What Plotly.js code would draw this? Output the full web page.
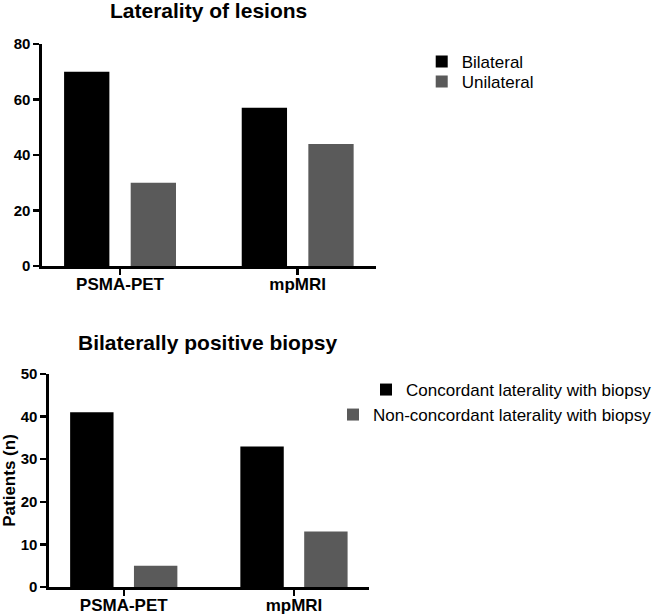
<!DOCTYPE html>
<html>
<head>
<meta charset="utf-8">
<script src="https://cdn.plot.ly/plotly-3.0.1.min.js"></script>
<style>html,body{margin:0;padding:0;background:#fff;}#chart{width:657px;height:614px;}</style>
</head>
<body>
<div id="chart"></div>
<script>
// ---- data ----
const categories = ['PSMA-PET', 'mpMRI'];
const lesionsBilateral = [70, 57];
const lesionsUnilateral = [30, 44];
const biopsyConcordant = [41, 33];
const biopsyNonConcordant = [5, 13];
const topTitle = 'Laterality of lesions';
const bottomTitle = 'Bilaterally positive biopsy';
const yTitleBottom = 'Patients (n)';
const topTicks = [0, 20, 40, 60, 80];
const bottomTicks = [0, 10, 20, 30, 40, 50];

const W = 657, H = 614;
const px = v => v / W;
const py = v => 1 - v / H;

const BLACK = '#000000';
const GRAY = '#5a5a5a';
const FONT = 'Liberation Sans, Arial, Helvetica, sans-serif';

const traces = [
  {type: 'bar', x: categories, y: lesionsBilateral, name: 'Bilateral', xaxis: 'x', yaxis: 'y',
   marker: {color: BLACK}, legend: 'legend'},
  {type: 'bar', x: categories, y: lesionsUnilateral, name: 'Unilateral', xaxis: 'x', yaxis: 'y',
   marker: {color: GRAY}, legend: 'legend2'},
  {type: 'bar', x: categories, y: biopsyConcordant, name: 'Concordant laterality with biopsy', xaxis: 'x2', yaxis: 'y2',
   marker: {color: BLACK}, legend: 'legend3'},
  {type: 'bar', x: categories, y: biopsyNonConcordant, name: 'Non-concordant laterality with biopsy', xaxis: 'x2', yaxis: 'y2',
   marker: {color: GRAY}, legend: 'legend4'}
];

const xCommon = {
  type: 'category', range: [-0.44, 1.44], showline: true, linecolor: '#000', linewidth: 2.5,
  ticks: 'outside', ticklen: 6, tickwidth: 2.5, tickcolor: '#000', showgrid: false, zeroline: false,
  ticklabelstandoff: -5,
  tickfont: {family: FONT, size: 17, color: '#000', weight: 'bold'}, fixedrange: true
};
const yCommon = {
  showline: true, linecolor: '#000', linewidth: 2.5, ticks: 'outside', ticklen: 6, tickwidth: 2.5,
  tickcolor: '#000', showgrid: false, zeroline: false, fixedrange: true,
  tickfont: {family: FONT, size: 15, color: '#000', weight: 'bold'}
};

const legendCommon = {
  bgcolor: 'rgba(0,0,0,0)', borderwidth: 0,
  font: {family: FONT, size: 17, color: '#000'}, yanchor: 'middle'
};

const layout = {
  width: W, height: H, paper_bgcolor: '#fff', plot_bgcolor: '#fff',
  margin: {l: 0, r: 0, t: 0, b: 0},
  barmode: 'group', bargap: 0.25, bargroupgap: 0.32,
  showlegend: true,
  xaxis: Object.assign({}, xCommon, {domain: [px(42), px(377)], anchor: 'y'}),
  yaxis: Object.assign({}, yCommon, {domain: [py(266), py(44)], anchor: 'x', range: [0, 80], tickvals: topTicks}),
  xaxis2: Object.assign({}, xCommon, {domain: [px(49), px(370)], anchor: 'y2'}),
  yaxis2: Object.assign({}, yCommon, {domain: [py(587), py(374)], anchor: 'x2', range: [0, 50], tickvals: bottomTicks,
    title: {text: yTitleBottom, font: {family: FONT, size: 17, color: '#000', weight: 'bold'}, standoff: 8}}),
  legend: Object.assign({}, legendCommon, {x: px(423), y: py(62), xanchor: 'left'}),
  legend2: Object.assign({}, legendCommon, {x: px(423), y: py(82), xanchor: 'left'}),
  legend3: Object.assign({}, legendCommon, {x: px(659), y: py(390), xanchor: 'right'}),
  legend4: Object.assign({}, legendCommon, {x: px(659), y: py(415), xanchor: 'right'}),
  annotations: [
    {text: topTitle, xref: 'paper', yref: 'paper', x: px(209), y: py(10), xanchor: 'center', yanchor: 'middle',
     showarrow: false, font: {family: FONT, size: 21, color: '#000', weight: 'bold'}},
    {text: bottomTitle, xref: 'paper', yref: 'paper', x: px(208), y: py(342), xanchor: 'center', yanchor: 'middle',
     showarrow: false, font: {family: FONT, size: 21, color: '#000', weight: 'bold'}}
  ]
};

Plotly.newPlot('chart', traces, layout, {displayModeBar: false, staticPlot: true});
</script>
</body>
</html>
